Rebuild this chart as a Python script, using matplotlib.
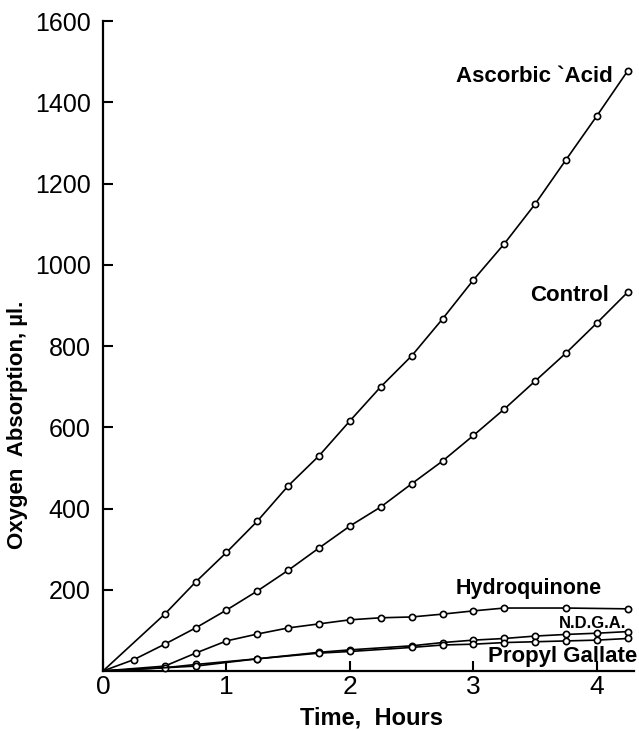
import numpy as np
import matplotlib.pyplot as plt
from matplotlib import font_manager

plt.rcParams['font.family'] = ['Liberation Sans', 'DejaVu Sans']

# time in hours, oxygen absorption in microlitres (first point is the origin, drawn without marker)
t_ascorbic = [0, 0.5, 0.75, 1.0, 1.25, 1.5, 1.75, 2.0, 2.25, 2.5, 2.75, 3.0, 3.25, 3.5, 3.75, 4.0, 4.25]
y_ascorbic = [0, 140, 219, 292, 369, 456, 530, 616, 700, 776, 867, 963, 1052, 1150, 1259, 1367, 1478]

t_control = [0, 0.25, 0.5, 0.75, 1.0, 1.25, 1.5, 1.75, 2.0, 2.25, 2.5, 2.75, 3.0, 3.25, 3.5, 3.75, 4.0, 4.25]
y_control = [0, 28, 66, 106, 150, 197, 248, 303, 357, 404, 461, 517, 580, 645, 714, 783, 857, 933]

t_hydro = [0, 0.5, 0.75, 1.0, 1.25, 1.5, 1.75, 2.0, 2.25, 2.5, 2.75, 3.0, 3.25, 3.75, 4.25]
y_hydro = [0, 12, 44, 74, 91, 106, 116, 126, 131, 133, 140, 148, 155, 155, 153]

t_ndga = [0, 0.5, 0.75, 1.25, 1.75, 2.0, 2.5, 2.75, 3.0, 3.25, 3.5, 3.75, 4.0, 4.25]
y_ndga = [0, 8, 16, 30, 46, 52, 62, 70, 76, 80, 86, 90, 93, 97]

t_pg = [0, 0.75, 1.25, 1.75, 2.0, 2.5, 2.75, 3.0, 3.25, 3.5, 3.75, 4.0, 4.25]
y_pg = [0, 12, 30, 44, 48, 58, 64, 66, 70, 72, 74, 76, 80]

series = [
    (t_ascorbic, y_ascorbic, "Ascorbic `Acid", 4.13, 1463, 16),
    (t_control, y_control, "Control", 4.10, 924, 16),
    (t_hydro, y_hydro, "Hydroquinone", 4.04, 202, 15.5),
    (t_ndga, y_ndga, "N.D.G.A.", 4.24, 118, 12),
    (t_pg, y_pg, "Propyl Gallate", 4.33, 36, 16),
]

# the original lettering is narrow and tall; use a narrow face when one is installed
installed = {f.name for f in font_manager.fontManager.ttflist}
if 'Liberation Sans Narrow' in installed:
    label_family, label_scale = ['Liberation Sans Narrow', 'DejaVu Sans'], 1.2
else:
    label_family, label_scale = ['Liberation Sans', 'DejaVu Sans'], 1.0

fig = plt.figure(figsize=(6.39, 7.31), dpi=100)
ax = fig.add_axes([0.1612, 0.0821, 0.831, 0.889])

for t, y, name, lx, ly, fs in series:
    ax.plot(t, y, color='black', lw=1.2, marker='o', markersize=4.5,
            markerfacecolor='white', markeredgecolor='black', markeredgewidth=1.2,
            markevery=list(range(1, len(t))), clip_on=False, zorder=3)
    ax.text(lx, ly, name, ha='right', va='center', fontsize=fs * label_scale,
            fontweight='bold', family=label_family)

ax.set_xlim(0, 4.3)
ax.set_ylim(0, 1600)
ax.set_xticks([0, 1, 2, 3, 4])
ax.set_yticks(np.arange(200, 1601, 200))
ax.spines['top'].set_visible(False)
ax.spines['right'].set_visible(False)
for s in ['left', 'bottom']:
    ax.spines[s].set_linewidth(1.6)
ax.tick_params(axis='y', direction='in', length=7, width=1.5, pad=9, labelsize=18)
ax.tick_params(axis='x', direction='in', length=7, width=1.5, pad=3, labelsize=19)

fig.text(372 / 639, 1 - 718 / 731, "Time,  Hours", ha='center', va='center',
         fontsize=17, fontweight='bold', family=label_family)
fig.text(18 / 639, 1 - 425 / 731, "Oxygen  Absorption, \u00b5l.", ha='center', va='center',
         rotation=90, fontsize=16, fontweight='bold')

fig.savefig('out.png', dpi=100)
